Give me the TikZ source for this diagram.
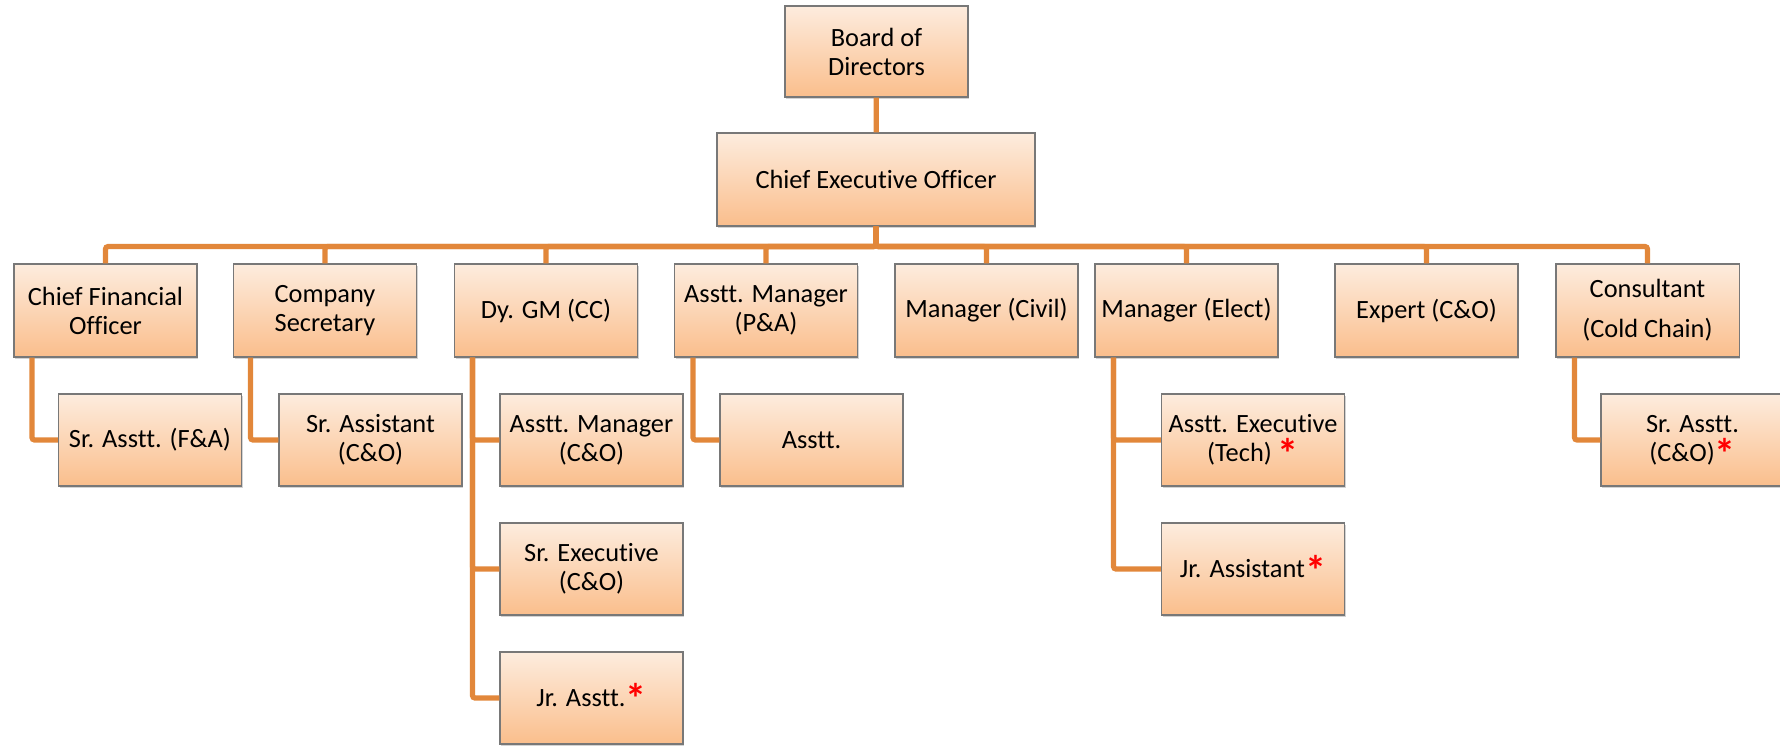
\documentclass[tikz,border=0pt]{standalone}
\usepackage{fontspec}
\setmainfont{Carlito}[Ligatures=NoCommon]
\usepackage{xcolor}
\usepackage{tikz}
\usetikzlibrary{positioning,shadows}
\definecolor{linkorange}{RGB}{226,135,58}
\definecolor{boxtop}{RGB}{253,236,222}
\definecolor{boxbottom}{RGB}{250,190,140}
\definecolor{boxedge}{RGB}{120,120,120}
\newcommand{\redstar}{{\color{red}\smash{\raisebox{-4pt}{\fontsize{24}{24}\selectfont\bfseries *}}}}

\begin{document}
\begin{tikzpicture}[
    font=\fontsize{15}{16.5}\selectfont,
    box/.style={
        rectangle,
        draw=boxedge,
        line width=0.6pt,
        top color=boxtop,
        bottom color=boxbottom,
        drop shadow={opacity=0.35, shadow xshift=0.6pt, shadow yshift=-0.9pt},
        minimum width=3.66cm,
        minimum height=1.84cm,
        inner sep=1pt,
        align=center
    },
    link/.style={draw=linkorange, line width=3pt, rounded corners=1.5pt}
]
\useasboundingbox (0,0) rectangle (35.6,-15);

% top of the chart
\node[box, minimum height=1.82cm] (board) at (17.53,-1.03) {Board of\\Directors};
\node[box, minimum width=6.36cm, minimum height=1.86cm] (ceo) at (17.52,-3.59) {Chief Executive Officer};

% first row
\node[box, minimum height=1.86cm] (cfo) at (2.11,-6.21) {Chief Financial\\Officer};
\node[box, minimum height=1.86cm] (cs) at (6.50,-6.21) {Company\\Secretary};
\node[box, minimum height=1.86cm] (dygm) at (10.92,-6.21) {Dy. GM (CC)};
\node[box, minimum height=1.86cm] (ampa) at (15.32,-6.21) {Asstt. Manager\\(P\&A)};
\node[box, minimum height=1.86cm] (mcivil) at (19.73,-6.21) {Manager (Civil)};
\node[box, minimum height=1.86cm] (melect) at (23.73,-6.21) {Manager (Elect)};
\node[box, minimum height=1.86cm] (expert) at (28.53,-6.21) {Expert (C\&O)};
\node[box, minimum height=1.86cm] (consult) at (32.95,-6.21) {Consultant\\[0.22cm](Cold Chain)};

% second row and below
\node[box] (srfa) at (3.00,-8.80) {Sr. Asstt. (F\&A)};
\node[box] (srassist) at (7.41,-8.80) {Sr. Assistant\\(C\&O)};
\node[box] (amco) at (11.83,-8.80) {Asstt. Manager\\(C\&O)};
\node[box] (srexec) at (11.83,-11.38) {Sr. Executive\\(C\&O)};
\node[box] (jrasstt) at (11.83,-13.96) {Jr. Asstt.\redstar};
\node[box] (asstt) at (16.23,-8.80) {Asstt.};
\node[box] (aexec) at (25.06,-8.80) {Asstt. Executive\\(Tech) \redstar};
\node[box] (jrassist) at (25.06,-11.38) {Jr. Assistant\redstar};
\node[box] (srasco) at (33.85,-8.80) {Sr. Asstt.\\(C\&O)\redstar};

% connectors
\draw[link] (board) -- (ceo);
\foreach \n in {cfo,cs,dygm,ampa,mcivil,melect,expert,consult}
    \draw[link] (ceo.south) -- ++(0,-0.4) -| (\n.north);

\draw[link] ([xshift=0.37cm]cfo.south west) |- (srfa.west);
\draw[link] ([xshift=0.35cm]cs.south west) |- (srassist.west);
\foreach \n in {amco,srexec,jrasstt}
    \draw[link] ([xshift=0.37cm]dygm.south west) |- (\n.west);
\draw[link] ([xshift=0.38cm]ampa.south west) |- (asstt.west);
\foreach \n in {aexec,jrassist}
    \draw[link] ([xshift=0.38cm]melect.south west) |- (\n.west);
\draw[link] ([xshift=0.38cm]consult.south west) |- (srasco.west);
\end{tikzpicture}
\end{document}
